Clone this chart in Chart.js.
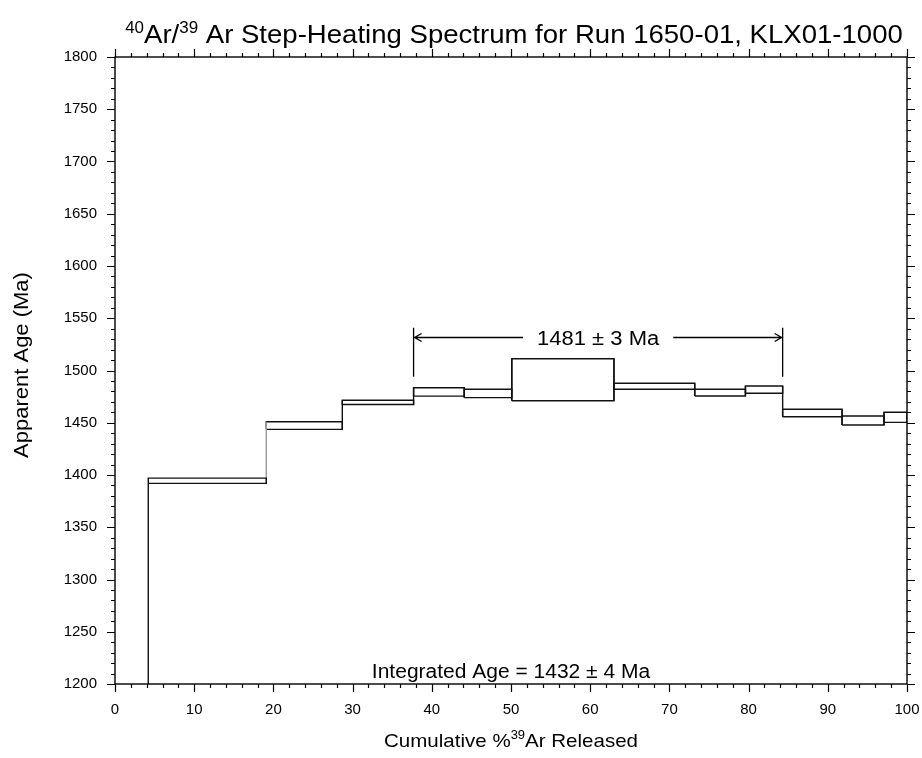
<!DOCTYPE html>
<html>
<head>
<meta charset="utf-8">
<script src="https://cdn.jsdelivr.net/npm/chart.js@4.4.1/dist/chart.umd.min.js"></script>
<style>
html,body{margin:0;padding:0;background:#fff;}
#wrap{width:922px;height:758px;position:relative;}
</style>
</head>
<body>
<div id="wrap"><canvas id="c" width="922" height="758"></canvas></div>
<script>
// ---- data ----
const stepStart = [4.2, 19.1, 28.7, 37.7, 44.1, 50.1, 63.0, 73.2, 79.6, 84.3, 91.8, 97.1];
const stepEnd   = [19.1, 28.7, 37.7, 44.1, 50.1, 63.0, 73.2, 79.6, 84.3, 91.8, 97.1, 100];
const ageLow    = [1392, 1443.7, 1467.5, 1475.5, 1474.0, 1471.1, 1482.0, 1475.6, 1478.2, 1455.8, 1447.8, 1450.4];
const ageHigh   = [1397, 1451.0, 1471.5, 1483.5, 1482.0, 1511.3, 1487.8, 1482.0, 1485.2, 1462.9, 1456.5, 1460.0];
const xTickLabels = [0, 10, 20, 30, 40, 50, 60, 70, 80, 90, 100];
const yTickLabels = [1200, 1250, 1300, 1350, 1400, 1450, 1500, 1550, 1600, 1650, 1700, 1750, 1800];
const plateauStart = 37.7;
const plateauEnd = 84.3;
const plateauText = '1481 ± 3 Ma';
const integratedText = 'Integrated Age = 1432 ± 4 Ma';
const titleParts = [{t:'40',sup:true},{t:'Ar/'},{t:'39',sup:true},{t:' Ar Step-Heating Spectrum for Run 1650-01, KLX01-1000'}];
const xTitleParts = [{t:'Cumulative %'},{t:'39',sup:true},{t:'Ar Released'}];
const yTitle = 'Apparent Age (Ma)';

const FONT = '"Liberation Sans", Helvetica, Arial, sans-serif';

// ---- build datasets ----
const datasets = [];
datasets.push({data:[{x:stepStart[0],y:yTickLabels[0]},{x:stepStart[0],y:ageLow[0]}]});
for (let i = 0; i < stepStart.length; i++) {
  datasets.push({data:[
    {x:stepStart[i],y:ageLow[i]},{x:stepEnd[i],y:ageLow[i]},
    {x:stepEnd[i],y:ageHigh[i]},{x:stepStart[i],y:ageHigh[i]},
    {x:stepStart[i],y:ageLow[i]}]});
  if (i < stepStart.length - 1) {
    const lo = Math.min(ageLow[i], ageLow[i+1]);
    const hi = Math.max(ageHigh[i], ageHigh[i+1]);
    datasets.push({connector: i === 0, data:[{x:stepEnd[i],y:lo},{x:stepEnd[i],y:hi}]});
  }
}
datasets.forEach(d => {
  d.showLine = true; d.borderColor = d.connector ? '#999' : '#111'; d.borderWidth = 1.4;
  d.pointRadius = 0; d.fill = false; d.tension = 0;
});

function drawRich(ctx, parts, cx, baseY, size, supSize, supRaise, sx) {
  let total = 0;
  parts.forEach(p => {
    ctx.font = (p.sup ? supSize : size) + 'px ' + FONT;
    p.w = ctx.measureText(p.t).width; total += p.w;
  });
  ctx.save();
  ctx.translate(cx, baseY);
  ctx.scale(sx, 1);
  let x = -total / 2;
  ctx.textAlign = 'left'; ctx.textBaseline = 'alphabetic';
  parts.forEach(p => {
    ctx.font = (p.sup ? supSize : size) + 'px ' + FONT;
    ctx.fillText(p.t, x, p.sup ? -supRaise : 0);
    x += p.w;
  });
  ctx.restore();
}

const decor = {
  id: 'decor',
  afterDraw(chart) {
    const ctx = chart.ctx, a = chart.chartArea;
    const xs = chart.scales.x, ys = chart.scales.y;
    ctx.save();
    ctx.strokeStyle = '#000'; ctx.fillStyle = '#000';
    ctx.lineWidth = 1.4;
    ctx.strokeRect(a.left, a.top, a.right - a.left, a.bottom - a.top);
    ctx.lineWidth = 1.2;
    ctx.beginPath();
    for (let v = 0; v <= 100; v += 2) {
      const px = Math.round(xs.getPixelForValue(v)) + 0.5;
      const L = (v % 10 === 0) ? 8 : 4;
      ctx.moveTo(px, a.bottom); ctx.lineTo(px, a.bottom + L);
      ctx.moveTo(px, a.top); ctx.lineTo(px, a.top - L);
    }
    for (let v = 1200; v <= 1800; v += 10) {
      const py = Math.round(ys.getPixelForValue(v)) + 0.5;
      const L = (v % 50 === 0) ? 8 : 4;
      ctx.moveTo(a.left, py); ctx.lineTo(a.left - L, py);
      ctx.moveTo(a.right, py); ctx.lineTo(a.right + L, py);
    }
    ctx.stroke();

    drawRich(ctx, titleParts, 514, 43, 26, 16, 10, 1.06);
    drawRich(ctx, xTitleParts, 511, 747, 19, 12, 8, 1.08);
    // y title
    ctx.save();
    ctx.translate(22, 365);
    ctx.rotate(-Math.PI / 2);
    ctx.scale(1.1, 1);
    ctx.font = '20px ' + FONT; ctx.textAlign = 'center'; ctx.textBaseline = 'middle';
    ctx.fillText(yTitle, 0, 0);
    ctx.restore();

    // integrated age
    drawRich(ctx, [{t:integratedText}], xs.getPixelForValue(50), ys.getPixelForValue(1200) - 6, 20, 12, 0, 1.05);

    // plateau annotation
    const x1 = xs.getPixelForValue(plateauStart), x2 = xs.getPixelForValue(plateauEnd);
    const yA = Math.round(ys.getPixelForValue(1532)) + 0.5;
    const yT = ys.getPixelForValue(1541), yB = ys.getPixelForValue(1494);
    const xm = (x1 + x2) / 2;
    ctx.font = '20px ' + FONT;
    const tw = ctx.measureText(plateauText).width * 1.1;
    drawRich(ctx, [{t:plateauText}], xm, yA + 7, 20, 12, 0, 1.1);
    ctx.lineWidth = 1.3;
    ctx.beginPath();
    ctx.moveTo(x1, yT); ctx.lineTo(x1, yB);
    ctx.moveTo(x2, yT); ctx.lineTo(x2, yB);
    ctx.moveTo(x1, yA); ctx.lineTo(xm - tw / 2 - 14, yA);
    ctx.moveTo(xm + tw / 2 + 14, yA); ctx.lineTo(x2, yA);
    ctx.moveTo(x1 + 8, yA - 4); ctx.lineTo(x1 + 1, yA); ctx.lineTo(x1 + 8, yA + 4);
    ctx.moveTo(x2 - 8, yA - 4); ctx.lineTo(x2 - 1, yA); ctx.lineTo(x2 - 8, yA + 4);
    ctx.stroke();
    ctx.restore();
  }
};

new Chart(document.getElementById('c'), {
  type: 'scatter',
  data: { datasets },
  options: {
    responsive: false, animation: false, devicePixelRatio: 1,
    layout: { padding: { top: 57, right: 15, left: 0, bottom: 0 } },
    plugins: { legend: { display: false }, tooltip: { enabled: false }, title: { display: false } },
    scales: {
      x: {
        type: 'linear', min: xTickLabels[0], max: xTickLabels[xTickLabels.length - 1],
        afterFit: s => { s.height = 74; s.paddingLeft = 0; s.paddingRight = 0; },
        afterBuildTicks: s => { s.ticks = xTickLabels.map(v => ({ value: v })); },
        ticks: { color: '#000', font: { size: 15, family: FONT }, padding: 17, maxRotation: 0, autoSkip: false, callback: v => String(v) },
        grid: { drawOnChartArea: false, drawTicks: false },
        border: { display: false }
      },
      y: {
        type: 'linear', min: yTickLabels[0], max: yTickLabels[yTickLabels.length - 1],
        afterFit: s => { s.width = 115; s.paddingTop = 0; s.paddingBottom = 0; },
        afterBuildTicks: s => { s.ticks = yTickLabels.map(v => ({ value: v })); },
        ticks: { color: '#000', font: { size: 15, family: FONT }, padding: 18, autoSkip: false, callback: v => String(v) },
        grid: { drawOnChartArea: false, drawTicks: false },
        border: { display: false }
      }
    }
  },
  plugins: [decor]
});
</script>
</body>
</html>
